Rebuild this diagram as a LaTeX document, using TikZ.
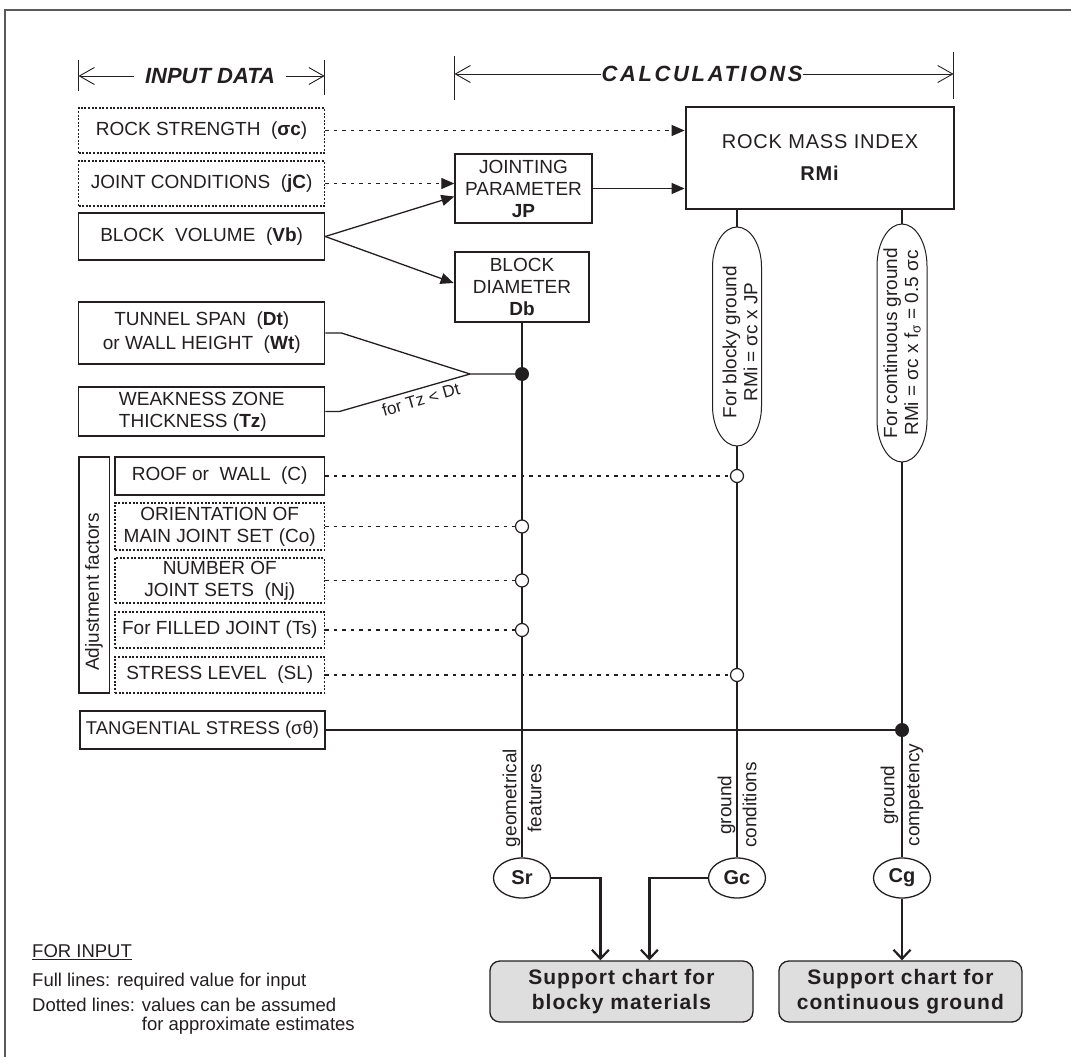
\documentclass[tikz,border=0pt]{standalone}
\usepackage{fontspec}
\setmainfont{Liberation Sans}
\usepackage{tikz}
\usetikzlibrary{arrows.meta,calc,positioning,shapes.geometric}

\definecolor{ink}{HTML}{231F20}
\definecolor{chartgray}{HTML}{DEDEDE}

\begin{document}
\begin{tikzpicture}[x=1pt, y=-1pt, color=ink,
	font=\fontsize{19}{22}\selectfont,
	inbox/.style={draw, line width=1.3pt, inner sep=0pt, align=center, minimum width=246pt},
	optbox/.style={inbox, dash pattern=on 2pt off 1.6pt},
	calcbox/.style={draw, line width=1.3pt, inner sep=0pt, align=center},
	heavybox/.style={calcbox, line width=2.8pt},
	thinline/.style={line width=1.3pt},
	dotline/.style={line width=1.2pt, dash pattern=on 3.5pt off 5pt},
	mainline/.style={line width=2.6pt},
	headtip/.style={-{Triangle[length=13pt,width=11pt]}},
	outarrow/.style={line width=2.2pt, -{Straight Barb[length=9pt,width=17pt]}},
	dimline/.style={line width=0.9pt},
	dimtip/.style={-{Straight Barb[length=15pt,width=17pt]}},
	joint/.style={circle, draw, line width=1.2pt, fill=white, minimum size=13pt, inner sep=0pt},
	fulldot/.style={circle, fill, minimum size=14pt, inner sep=0pt},
	endnode/.style={ellipse, draw, line width=1.3pt, minimum width=57pt, minimum height=40pt, inner sep=0pt, font=\fontsize{20}{22}\selectfont\bfseries},
	chart/.style={draw, line width=1.3pt, fill=chartgray, rounded corners=10pt, inner sep=0pt, align=center, minimum height=61pt, font=\fontsize{21}{25}\selectfont\bfseries\addfontfeatures{LetterSpace=5}},
	sidelabel/.style={rotate=90, align=center, font=\fontsize{19}{25}\selectfont},
	caplabel/.style={rotate=90, align=center, font=\fontsize{19}{21}\selectfont}]

	\useasboundingbox (0,0) rectangle (1071,1057);
	\draw[line width=1.2pt, black!65] (5,1070) -- (5,10) -- (1080,10);

	% headings
	\node[font=\fontsize{22}{26}\selectfont\bfseries\itshape, inner sep=11pt] (inhead) at (210,76) {INPUT DATA};
	\node[font=\fontsize{22}{26}\selectfont\bfseries\itshape\addfontfeatures{LetterSpace=12}, inner sep=0pt] (calchead) at (702,74) {CALCULATIONS};
	\coordinate (inl) at (78.5,76);
	\coordinate (inr) at (324.7,76);
	\coordinate (calcl) at (454.5,74);
	\coordinate (calcr) at (953.6,74);
	\draw[dimline] (inl) ++(0,-16) -- ++(0,31);
	\draw[dimline] (inr) ++(0,-16) -- ++(0,35);
	\draw[dimline] (calcl) ++(0,-18) -- ++(0,44);
	\draw[dimline] (calcr) ++(0,-22) -- ++(0,47);
	\draw[dimline, dimtip] (inhead) -- (inl);
	\draw[dimline, dimtip] (inhead) -- (inr);
	\draw[dimline, dimtip] (calchead) -- (calcl);
	\draw[dimline, dimtip] (calchead) -- (calcr);

	% input data
	\node[optbox, minimum height=45pt] (rock) at (201.6,130.5) {ROCK STRENGTH\ \ (\textbf{σc})};
	\node[optbox, minimum height=45pt] (jcond) at (201.6,183.5) {JOINT CONDITIONS\ \ (\textbf{jC})};
	\node[inbox, minimum height=47pt] (bvol) at (201.6,236.5) {BLOCK\ \ VOLUME\ \ (\textbf{Vb})};
	\node[inbox, minimum height=62pt, font=\fontsize{19}{24}\selectfont] (span) at (201.8,333) {TUNNEL SPAN\ \ (\textbf{Dt})\\or WALL HEIGHT\ \ (\textbf{Wt})};
	\node[inbox, minimum height=49pt, align=left] (weak) at (201.8,411.5) {WEAKNESS ZONE\\THICKNESS (\textbf{Tz})};
	\node[draw, line width=1.3pt, minimum width=30.5pt, minimum height=236pt, inner sep=0pt] (adj) at (94.25,575) {};
	\node[rotate=90] (adjtext) at (94,592) {Adjustment factors};
	\node[inbox, minimum width=209.5pt, minimum height=38pt] (roof) at (219.75,476) {ROOF or\ \ WALL\ \ (C)};
	\node[optbox, minimum width=209.5pt, minimum height=47pt] (orient) at (219.75,526.5) {ORIENTATION OF\\MAIN JOINT SET (Co)};
	\node[optbox, minimum width=209.5pt, minimum height=45pt] (nsets) at (219.75,580.5) {NUMBER OF\\JOINT SETS\ \ (Nj)};
	\node[optbox, minimum width=209.5pt, minimum height=36pt] (filled) at (219.75,630) {For FILLED JOINT (Ts)};
	\node[optbox, minimum width=209.5pt, minimum height=36pt] (stress) at (219.75,675) {STRESS LEVEL\ \ (SL)};
	\node[inbox, minimum width=245pt, minimum height=38pt, font=\fontsize{18.5}{22}\selectfont] (tang) at (202.5,730) {TANGENTIAL STRESS (σθ)};

	% calculations
	\node[calcbox, minimum width=137pt, minimum height=69pt] (jp) at (523.5,188.5) {JOINTING\\PARAMETER\\\textbf{JP}};
	\node[heavybox, minimum width=134pt, minimum height=70pt] (db) at (522,287) {BLOCK\\DIAMETER\\\textbf{Db}};
	\node[heavybox, minimum width=268pt, minimum height=102pt, font=\fontsize{20}{24}\selectfont\addfontfeatures{LetterSpace=4}] (rmi) at (820,158) {ROCK MASS INDEX\\[8pt]\textbf{RMi}};

	\draw[line width=1pt] (712.5,267) .. controls (712.5,244.9) and (723.5,227) .. (737,227) .. controls (750.5,227) and (761.5,244.9) .. (761.5,267) -- (761.5,406) .. controls (761.5,428.1) and (750.5,446) .. (737,446) .. controls (723.5,446) and (712.5,428.1) .. (712.5,406) -- cycle;
	\draw[line width=1pt] (877,266) .. controls (877,242.8) and (888.2,224) .. (902,224) .. controls (915.8,224) and (927,242.8) .. (927,266) -- (927,420) .. controls (927,443.2) and (915.8,462) .. (902,462) .. controls (888.2,462) and (877,443.2) .. (877,420) -- cycle;
	\node[caplabel] (blkt) at (740,342) {For blocky ground\\RMi = σc x JP};
	\node[caplabel] (contt) at (902,343) {For continuous ground\\RMi = σc x f\textsubscript{σ} = 0.5 σc};
	\coordinate (blktop) at (737,227);
	\coordinate (blkbot) at (737,446);
	\coordinate (conttop) at (902,224);
	\coordinate (contbot) at (902,462);

	\node[endnode] (sr) at (522,878) {Sr};
	\node[endnode] (gc) at (737,878) {Gc};
	\node[endnode] (cg) at (902,878) {Cg};
	\node[chart, minimum width=263pt] (blockychart) at (621.4,991.5) {Support chart for\\blocky materials};
	\node[chart, minimum width=243pt] (contchart) at (900.4,991.5) {Support chart for\\continuous ground};

	% arrows into the calculation boxes
	\draw[dotline, headtip] (rock.east) -- (rock.east -| rmi.west);
	\draw[dotline, headtip] (jcond.east) -- (jcond.east -| jp.west);
	\draw[thinline, headtip] (bvol.east) -- ($(jp.west)+(0,8)$);
	\draw[thinline, headtip] (bvol.east) -- ($(db.west)+(0,-4)$);
	\draw[thinline, headtip] (jp.east) -- (jp.east -| rmi.west);

	% main lines
	\draw[mainline] (db.south) -- (sr.north);
	\draw[mainline] (rmi.south -| blktop) -- (blktop);
	\draw[mainline] (rmi.south -| conttop) -- (conttop);
	\draw[mainline] (blkbot) -- (gc.north);
	\draw[mainline] (contbot) -- (cg.north);
	\node[sidelabel] (geolab) at (522,798) {geometrical\\features};
	\node[sidelabel] (gclab) at (737,805) {ground\\conditions};
	\node[sidelabel] (cglab) at (902,795) {ground\\competency};

	% span and weakness zone
	\coordinate (meet) at (470,374);
	\node[fulldot] (spanj) at (db.south |- meet) {};
	\draw[thinline] (span.east) -- ++(16,0) -- (meet) -- (spanj);
	\draw[thinline] (weak.east) -- ++(14,0) -- (meet) node[pos=0.6, sloped, below, inner sep=4pt, font=\fontsize{17}{20}\selectfont] (tzlab) {for Tz < Dt};

	% adjustment factors
	\node[joint] (roofj) at (blktop |- roof.east) {};
	\node[joint] (orientj) at (db.south |- orient.east) {};
	\node[joint] (nsetsj) at (db.south |- nsets.east) {};
	\node[joint] (filledj) at (db.south |- filled.east) {};
	\node[joint] (stressj) at (blktop |- stress.east) {};
	\draw[dotline] (roof.east) -- (roofj);
	\draw[dotline] (orient.east) -- (orientj);
	\draw[dotline] (nsets.east) -- (nsetsj);
	\draw[dotline] (filled.east) -- (filledj);
	\draw[dotline] (stress.east) -- (stressj);
	\node[fulldot] (tangj) at (conttop |- tang.east) {};
	\draw[thinline] (tang.east) -- (tangj);

	% to the support charts
	\draw[outarrow] (sr.east) -| ([xshift=-21pt]blockychart.north);
	\draw[outarrow] (gc.west) -| ([xshift=28pt]blockychart.north);
	\draw[outarrow] (cg.south) -- (cg.south |- contchart.north);

	% legend
	\node[anchor=west, inner sep=0pt, font=\fontsize{18.5}{20}\selectfont] (forinput) at (32,952) {\underline{FOR INPUT}};
	\node[anchor=west, inner sep=0pt, font=\fontsize{18.5}{20}\selectfont] (legfull) at (32,982) {Full lines: required value for input};
	\node[anchor=west, inner sep=0pt, font=\fontsize{18.5}{18.5}\selectfont] (legdot) at (32,1017) {\begin{tabular}{@{}l@{ }l@{}}Dotted lines: & values can be assumed\\ & for approximate estimates\end{tabular}};
\end{tikzpicture}
\end{document}
